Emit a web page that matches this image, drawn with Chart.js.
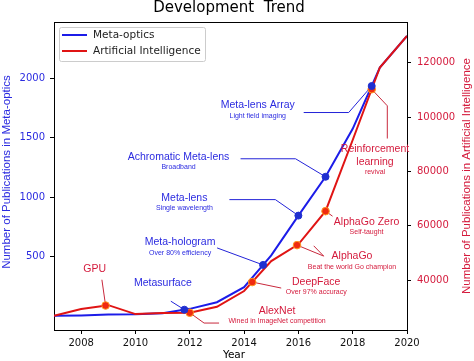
<!DOCTYPE html>
<html>
<head>
<meta charset="utf-8">
<script src="https://cdn.jsdelivr.net/npm/chart.js@4.4.0/dist/chart.umd.min.js"></script>
<style>
body { margin: 0; background: #fff; }
</style>
</head>
<body>
<canvas id="myChart" width="474" height="361"></canvas>
<script>
var years = [2007, 2008, 2009, 2010, 2011, 2012, 2013, 2014, 2015, 2016, 2017, 2018, 2019, 2020];
var metaOptics = [2, 5, 12, 15, 24, 60, 116, 242, 510, 845, 1172, 1576, 2091, 2357];
var aiPapers = [26900, 29400, 30800, 27500, 27900, 28000, 30200, 36000, 47000, 53200, 65400, 91600, 118300, 129900];

var yearTicks = [2008, 2010, 2012, 2014, 2016, 2018, 2020];
var metaTicks = [500, 1000, 1500, 2000];
var aiTicks = [40000, 60000, 80000, 100000, 120000];

// milestones on each curve
var metaEvents = ["Metasurface", "Meta-hologram", "Meta-lens", "Achromatic Meta-lens", "Meta-lens Array"];
var metaNotes = ["", "Over 80% efficiency", "Single wavelength", "Broadband", "Light field imaging"];
var metaEventYears = [2011.8, 2014.7, 2016, 2017, 2018.7];
var metaEventValues = [53, 430, 845, 1172, 1936];

var aiEvents = ["GPU", "AlexNet", "DeepFace", "AlphaGo", "AlphaGo Zero", "Reinforcement\nlearning"];
var aiNotes = ["", "Wined in ImageNet competition", "Over 97% accuracy", "Beat the world Go champion", "Self-taught", "revival"];
var aiEventYears = [2008.9, 2012, 2014.3, 2015.95, 2017, 2018.7];
var aiEventValues = [30660, 28000, 39300, 52900, 65400, 110300];

// label offsets (px) from each marker, and the leader line points
var metaCallouts = [
	{ dx: -21.5, dy: -26.5, path: [[-13.5, -8.5]] },
	{ dx: -83, dy: -22.5, path: [[-46, -17]] },
	{ dx: -114, dy: -18, path: [[-69, -16], [-23, -16]] },
	{ dx: -147, dy: -20, path: [[-85, -18], [-30, -18]] },
	{ dx: -114, dy: 19.5, path: [[-68, 26.5], [-23, 26.5]] },
];
var aiCallouts = [
	{ dx: -11, dy: -36, path: [[-3.7, -25.8]] },
	{ dx: 87.3, dy: -1.7, path: [[29.3, 10.3], [14.3, 10.3]] },
	{ dx: 64, dy: 0, path: [[29, 6]] },
	{ dx: 55, dy: 11, path: [[16.7, 0.7], [26.7, 11]] },
	{ dx: 41, dy: 10.7, path: [[7, 5]] },
	{ dx: 3.3, dy: 60, path: [[15.6, 49.3], [15.6, 16.6]] },
];

var blueLine = "#1c1ce8";
var redLine = "#e01414";
var blueText = "#2b2be0";
var redText = "#d41a3c";

function toPoints(xs, ys) {
	return xs.map(function (x, i) {
		return { x: x, y: ys[i] };
	});
}

var decorPlugin = {
	id: "decor",
	beforeDatasetsDraw: function (chart) {
		var ctx = chart.ctx;
		var sx = chart.scales.x;
		ctx.save();
		ctx.lineWidth = 1;
		function leaders(yearsArr, vals, scale, callouts, color) {
			ctx.strokeStyle = color;
			for (var i = 0; i < yearsArr.length; i++) {
				var px = sx.getPixelForValue(yearsArr[i]);
				var py = scale.getPixelForValue(vals[i]);
				var p = callouts[i].path;
				ctx.beginPath();
				ctx.moveTo(px + p[0][0], py + p[0][1]);
				for (var k = 1; k < p.length; k++) ctx.lineTo(px + p[k][0], py + p[k][1]);
				ctx.lineTo(px, py);
				ctx.stroke();
			}
		}
		leaders(metaEventYears, metaEventValues, chart.scales.y, metaCallouts, "#2323d8");
		leaders(aiEventYears, aiEventValues, chart.scales.y1, aiCallouts, "#c8283c");
		ctx.restore();
	},
	afterDatasetsDraw: function (chart) {
		var ctx = chart.ctx;
		var a = chart.chartArea;
		var sx = chart.scales.x;
		ctx.save();

		// top spine
		ctx.strokeStyle = "#000";
		ctx.lineWidth = 1;
		ctx.beginPath();
		ctx.moveTo(a.left, a.top + 0.5);
		ctx.lineTo(a.right, a.top + 0.5);
		ctx.stroke();

		ctx.textAlign = "center";
		ctx.textBaseline = "middle";
		function labels(names, notes, yearsArr, vals, scale, callouts, color) {
			ctx.fillStyle = color;
			for (var i = 0; i < names.length; i++) {
				var px = sx.getPixelForValue(yearsArr[i]) + callouts[i].dx;
				var py = scale.getPixelForValue(vals[i]) + callouts[i].dy;
				var lines = names[i].split("\n");
				ctx.font = "10.5px 'Liberation Sans', Arial, sans-serif";
				for (var k = 0; k < lines.length; k++) {
					ctx.fillText(lines[k], px, py + k * 12.6);
				}
				if (notes[i]) {
					ctx.font = "7px 'Liberation Sans', Arial, sans-serif";
					ctx.fillText(notes[i], px, py + (lines.length - 1) * 12.6 + 10.5);
				}
			}
		}
		labels(metaEvents, metaNotes, metaEventYears, metaEventValues, chart.scales.y, metaCallouts, blueText);
		labels(aiEvents, aiNotes, aiEventYears, aiEventValues, chart.scales.y1, aiCallouts, redText);

		// title and axis titles
		ctx.fillStyle = "#000";
		ctx.font = "15px 'DejaVu Sans', sans-serif";
		ctx.fillText("Development  Trend", 229, 8);
		ctx.font = "10.5px 'DejaVu Sans', sans-serif";
		ctx.fillText("Year", 234, 355);

		ctx.font = "11.5px 'Liberation Sans', Arial, sans-serif";
		ctx.save();
		ctx.translate(7, 172);
		ctx.rotate(-Math.PI / 2);
		ctx.fillStyle = blueText;
		ctx.fillText("Number of Publications in Meta-optics", 0, 0);
		ctx.restore();
		ctx.save();
		ctx.translate(467, 176);
		ctx.rotate(-Math.PI / 2);
		ctx.fillStyle = redText;
		ctx.fillText("Number of Publications in Artificial Intelligence", 0, 0);
		ctx.restore();

		// legend
		ctx.fillStyle = "rgba(255,255,255,0.85)";
		ctx.strokeStyle = "#cccccc";
		ctx.beginPath();
		ctx.roundRect(59.5, 27.5, 146, 34, 2);
		ctx.fill();
		ctx.stroke();
		ctx.lineWidth = 2;
		ctx.strokeStyle = blueLine;
		ctx.beginPath();
		ctx.moveTo(62, 35);
		ctx.lineTo(87, 35);
		ctx.stroke();
		ctx.strokeStyle = redLine;
		ctx.beginPath();
		ctx.moveTo(62, 51);
		ctx.lineTo(87, 51);
		ctx.stroke();
		ctx.fillStyle = "#222";
		ctx.textAlign = "left";
		ctx.font = "10.5px 'DejaVu Sans', sans-serif";
		ctx.fillText("Meta-optics", 93, 35);
		ctx.fillText("Artificial Intelligence", 93, 51);

		ctx.restore();
	},
};

var tickFont = { family: "'DejaVu Sans', sans-serif", size: 10 };

var chart = new Chart(document.querySelector("#myChart").getContext("2d"), {
	type: "line",
	data: {
		datasets: [
			{
				type: "scatter",
				data: toPoints(metaEventYears, metaEventValues),
				yAxisID: "y",
				backgroundColor: "#1f2fd0",
				borderColor: "#1f2fd0",
				pointRadius: 3.5,
				order: 0,
			},
			{
				type: "scatter",
				data: toPoints(aiEventYears, aiEventValues),
				yAxisID: "y1",
				backgroundColor: "#f02a10",
				borderColor: "#ff9a20",
				borderWidth: 1,
				pointRadius: 3.8,
				order: 0,
			},
			{
				label: "Artificial Intelligence",
				data: toPoints(years, aiPapers),
				yAxisID: "y1",
				borderColor: redLine,
				borderWidth: 2,
				pointRadius: 0,
				tension: 0,
				order: 1,
			},
			{
				label: "Meta-optics",
				data: toPoints(years, metaOptics),
				yAxisID: "y",
				borderColor: blueLine,
				borderWidth: 2,
				pointRadius: 0,
				tension: 0,
				order: 2,
			},
		],
	},
	plugins: [decorPlugin],
	options: {
		responsive: false,
		animation: false,
		events: [],
		layout: { padding: { top: 22, left: 0, right: 0, bottom: 0 } },
		plugins: {
			legend: { display: false },
			tooltip: { enabled: false },
		},
		scales: {
			x: {
				type: "linear",
				min: 2007,
				max: 2020,
				afterBuildTicks: function (s) {
					s.ticks = yearTicks.map(function (v) { return { value: v }; });
				},
				afterFit: function (s) { s.height = 31; },
				ticks: {
					color: "#111",
					font: tickFont,
					padding: 3,
					maxRotation: 0,
					autoSkip: false,
					callback: function (v) { return String(v); },
				},
				grid: { drawOnChartArea: false, drawTicks: true, tickLength: 4, tickColor: "#000" },
				border: { color: "#000", width: 1 },
			},
			y: {
				position: "left",
				min: -118,
				max: 2475,
				afterBuildTicks: function (s) {
					s.ticks = metaTicks.map(function (v) { return { value: v }; });
				},
				afterFit: function (s) { s.width = 54; },
				ticks: { color: blueText, font: tickFont, padding: 5, callback: function (v) { return String(v); } },
				grid: { drawOnChartArea: false, drawTicks: true, tickLength: 4, tickColor: "#000" },
				border: { color: "#000", width: 1 },
			},
			y1: {
				position: "right",
				min: 21650,
				max: 135050,
				afterBuildTicks: function (s) {
					s.ticks = aiTicks.map(function (v) { return { value: v }; });
				},
				afterFit: function (s) { s.width = 67; },
				ticks: { color: redText, font: tickFont, padding: 6, callback: function (v) { return String(v); } },
				grid: { drawOnChartArea: false, drawTicks: true, tickLength: 4, tickColor: "#000" },
				border: { color: "#000", width: 1 },
			},
		},
	},
});
</script>
</body>
</html>
